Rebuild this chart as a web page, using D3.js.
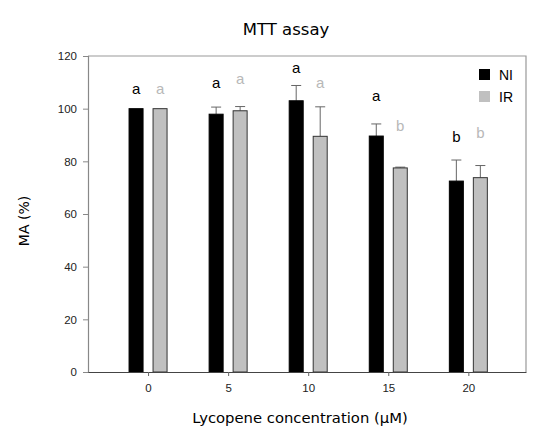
<!DOCTYPE html>
<html>
<head>
<meta charset="utf-8">
<script src="https://cdn.jsdelivr.net/npm/d3@7"></script>
<style>
  body { margin: 0; background: #fff; }
  svg { display: block; }
</style>
</head>
<body>
<div id="chart"></div>
<script>
// Data
const concentrations = [0, 5, 10, 15, 20];
const seriesNames = ['NI', 'IR'];
const niValues = [100, 97.9, 103, 89.6, 72.5];
const irValues = [100, 99.2, 89.5, 77.5, 73.8];
const niErrors = [0, 2.7, 5.8, 4.6, 8.0];
const irErrors = [0, 1.6, 11.2, 0.3, 4.6];
const niLetters = ['a', 'a', 'a', 'a', 'b'];
const irLetters = ['a', 'a', 'a', 'b', 'b'];
// letter baseline heights in data units
const niLetterPos = [105.4, 107.7, 113.7, 103.1, 87.5];
const irLetterPos = [105.4, 109.5, 108, 91.5, 88.7];
const yTicks = [0, 20, 40, 60, 80, 100, 120];

const width = 540, height = 427;
const margin = { top: 56, right: 14, bottom: 55, left: 88 };

const svg = d3.select('#chart').append('svg')
    .attr('width', width)
    .attr('height', height);

const x = d3.scaleLinear()
    .domain([-3.75, 23.6])
    .range([margin.left, width - margin.right]);

const y = d3.scaleLinear()
    .domain([0, 120])
    .range([height - margin.bottom, margin.top]);

const barW = 15;
const offset = 12;

const series = [
    { name: 'NI', values: niValues, errors: niErrors, letters: niLetters, letterPos: niLetterPos,
      fill: '#000', stroke: '#000', textColor: '#000', dx: -offset },
    { name: 'IR', values: irValues, errors: irErrors, letters: irLetters, letterPos: irLetterPos,
      fill: '#c0c0c0', stroke: '#333', textColor: '#b8b8b8', dx: offset }
];

// frame (top, right)
svg.append('path')
    .attr('d', `M${margin.left},${y(120)}H${width - margin.right}V${y(0)}`)
    .attr('fill', 'none')
    .attr('stroke', '#999')
    .attr('stroke-width', 1.2);

// bars, error bars, letters
series.forEach(s => {
    const g = svg.append('g');
    concentrations.forEach((c, i) => {
        const cx = x(c) + s.dx;
        const top = y(s.values[i]);
        if (s.errors[i] > 0) {
            const et = y(s.values[i] + s.errors[i]);
            g.append('line')
                .attr('x1', cx).attr('x2', cx)
                .attr('y1', top).attr('y2', et)
                .attr('stroke', '#666').attr('stroke-width', 1);
            g.append('line')
                .attr('x1', cx - 5).attr('x2', cx + 5)
                .attr('y1', et).attr('y2', et)
                .attr('stroke', '#666').attr('stroke-width', 1);
        }
        g.append('rect')
            .attr('x', cx - barW / 2 + 0.5)
            .attr('y', top)
            .attr('width', barW - 1)
            .attr('height', y(0) - top)
            .attr('fill', s.fill)
            .attr('stroke', s.stroke)
            .attr('stroke-width', 1);
        g.append('text')
            .attr('x', cx)
            .attr('y', y(s.letterPos[i]))
            .attr('text-anchor', 'middle')
            .attr('font-family', 'Liberation Sans, Arial, sans-serif')
            .attr('font-size', 15)
            .attr('fill', s.textColor)
            .text(s.letters[i]);
    });
});

// y axis
const yAxis = svg.append('g')
    .attr('transform', `translate(${margin.left},0)`)
    .call(d3.axisLeft(y).tickValues(yTicks).tickSize(5).tickPadding(6));
yAxis.select('.domain').attr('stroke', '#888').attr('stroke-width', 1.2);
yAxis.selectAll('.tick line').attr('stroke', '#888');
yAxis.selectAll('.tick text')
    .attr('font-family', 'Liberation Sans, Arial, sans-serif')
    .attr('font-size', 11.5)
    .attr('fill', '#222');

// x axis
const xAxis = svg.append('g')
    .attr('transform', `translate(0,${y(0)})`)
    .call(d3.axisBottom(x).tickValues(concentrations).tickSize(4).tickPadding(8).tickSizeOuter(0));
xAxis.select('.domain').attr('stroke', '#444').attr('stroke-width', 1.2);
xAxis.selectAll('.tick line').attr('stroke', '#666');
xAxis.selectAll('.tick text')
    .attr('font-family', 'Liberation Sans, Arial, sans-serif')
    .attr('font-size', 11.5)
    .attr('fill', '#222');

// legend
const legend = svg.append('g').attr('transform', 'translate(479,69)');
series.forEach((s, i) => {
    legend.append('rect')
        .attr('x', 0).attr('y', i * 22)
        .attr('width', 11).attr('height', 11)
        .attr('fill', s.fill);
    legend.append('text')
        .attr('x', 20).attr('y', i * 22 + 10.5)
        .attr('font-family', 'Liberation Sans, Arial, sans-serif')
        .attr('font-size', 14)
        .attr('fill', '#000')
        .text(seriesNames[i]);
});

// titles
svg.append('text')
    .attr('x', 286).attr('y', 35)
    .attr('text-anchor', 'middle')
    .attr('font-family', 'DejaVu Sans, Verdana, sans-serif')
    .attr('font-size', 16.5)
    .text('MTT assay');

svg.append('text')
    .attr('x', 300).attr('y', 423)
    .attr('text-anchor', 'middle')
    .attr('font-family', 'DejaVu Sans, Verdana, sans-serif')
    .attr('font-size', 14.8)
    .text('Lycopene concentration (μM)');

svg.append('text')
    .attr('transform', 'translate(29,221) rotate(-90)')
    .attr('text-anchor', 'middle')
    .attr('font-family', 'DejaVu Sans, Verdana, sans-serif')
    .attr('font-size', 14)
    .text('MA (%)');
</script>
</body>
</html>
